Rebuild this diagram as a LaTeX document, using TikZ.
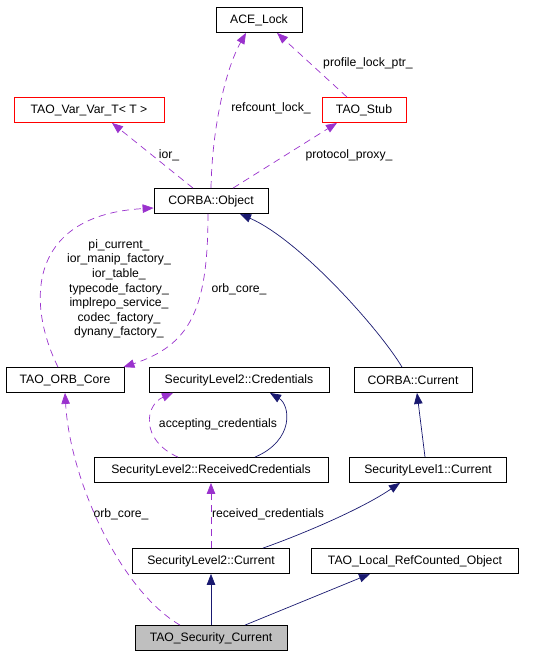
\documentclass[tikz,border=0pt]{standalone}
\usepackage{fontspec}
\setmainfont{Liberation Sans}
\usepackage{tikz}
\usetikzlibrary{calc}
\usetikzlibrary{arrows.meta}
\usetikzlibrary{positioning}
\definecolor{usepurple}{HTML}{9A32CD}
\definecolor{basenavy}{HTML}{191970}
\definecolor{gray75}{HTML}{BFBFBF}

\begin{document}
\begin{tikzpicture}[x=1pt, y=-1pt,
        cls/.style={draw, line width=0.8pt, minimum height=25pt, inner sep=0pt,
            font=\fontsize{12.2}{14.6}\selectfont},
        redbox/.style={cls, draw=red},
        lbl/.style={font=\fontsize{12.2}{14.6}\selectfont, align=center, inner sep=0pt},
        uses/.style={usepurple, line width=0.7pt, dash pattern=on 7pt off 5pt,
            -{Triangle[length=11pt, width=8.5pt]}},
        isa/.style={basenavy, line width=0.7pt,
            -{Triangle[length=11pt, width=8.5pt]}}]
        \useasboundingbox (0,0) rectangle (535,656);
        % classes
        \node[cls, minimum width=86pt] (lock) at (259,20) {ACE\_Lock};
        \node[redbox, minimum width=150pt] (varvar) at (89,110) {TAO\_Var\_Var\_T< T >};
        \node[redbox, minimum width=84pt] (stub) at (364,110) {TAO\_Stub};
        \node[cls, minimum width=114pt] (obj) at (211,201) {CORBA::Object};
        \node[cls, minimum width=118pt] (orb) at (65,380) {TAO\_ORB\_Core};
        \node[cls, minimum width=180pt] (cred) at (239,380) {SecurityLevel2::Credentials};
        \node[cls, minimum width=118pt] (cur) at (413,380) {CORBA::Current};
        \node[cls, minimum width=234pt] (rcv) at (211,470) {SecurityLevel2::ReceivedCredentials};
        \node[cls, minimum width=157pt] (sl1) at (428,470) {SecurityLevel1::Current};
        \node[cls, minimum width=157pt] (sl2) at (211,561) {SecurityLevel2::Current};
        \node[cls, minimum width=207pt] (local) at (415,561) {TAO\_Local\_RefCounted\_Object};
        \node[cls, fill=gray75, minimum width=152pt] (sec) at (211,638) {TAO\_Security\_Current};
        % members
        \draw[uses] (obj.north) .. controls (212,130) and (225,70) .. ([xshift=-13pt]lock.south);
        \draw[uses] ([xshift=-17pt]stub.north) -- ([xshift=18pt]lock.south);
        \draw[uses] ([xshift=-18pt]obj.north) -- ([xshift=23pt]varvar.south);
        \draw[uses] ([xshift=22pt]obj.north) -- ([xshift=-27pt]stub.south);
        \draw[uses] ([xshift=-7pt]orb.north) .. controls (25,300) and (30,215) .. ([yshift=-7pt]obj.west);
        \draw[uses] ([xshift=-3pt]obj.south) .. controls (208,310) and (190,345) .. ([xshift=-1pt]orb.north east);
        \draw[uses] ([xshift=-33pt]rcv.north) .. controls (140,440) and (145,405) .. ([xshift=-66pt]cred.south);
        \draw[uses] (sl2.north) -- (rcv.south);
        \draw[uses] ([xshift=-31pt]sec.north) .. controls (120,590) and (70,480) .. (orb.south);
        % bases
        \draw[isa] ([xshift=-11pt]cur.north) .. controls (380,330) and (300,240) .. ([xshift=29pt]obj.south);
        \draw[isa] ([xshift=44pt]rcv.north) .. controls (295,440) and (290,405) .. ([xshift=31pt]cred.south);
        \draw[isa] ([xshift=-3pt]sl1.north) -- ([xshift=4pt]cur.south);
        \draw[isa] ([xshift=52pt]sl2.north) .. controls (300,535) and (360,510) .. ([xshift=-28pt]sl1.south);
        \draw[isa] (sec.north) -- (sl2.south);
        \draw[isa] ([xshift=34pt]sec.north) -- ([xshift=-45pt]local.south);
        % labels
        \node[lbl] (lrefcount) at (271,108) {refcount\_lock\_};
        \node[lbl] (lprofile) at (368,63) {profile\_lock\_ptr\_};
        \node[lbl] (lior) at (169,155) {ior\_};
        \node[lbl] (lproxy) at (349,155) {protocol\_proxy\_};
        \node[lbl] (lorbmembers) at (119,289) {pi\_current\_\\ior\_manip\_factory\_\\ior\_table\_\\typecode\_factory\_\\implrepo\_service\_\\codec\_factory\_\\dynany\_factory\_};
        \node[lbl] (lorbcore) at (239,289) {orb\_core\_};
        \node[lbl] (laccepting) at (218,424) {accepting\_credentials};
        \node[lbl] (lreceived) at (268,514) {received\_credentials};
        \node[lbl] (lseccore) at (121,514) {orb\_core\_};
    \end{tikzpicture}
\end{document}
